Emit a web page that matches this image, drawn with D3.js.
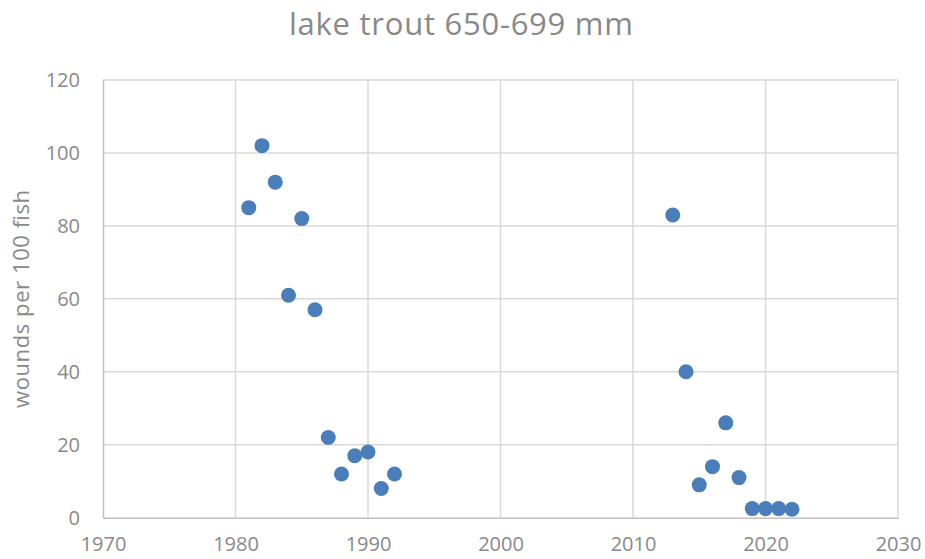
<!DOCTYPE html>
<html>
<head>
  <meta charset="utf-8">
  <title>lake trout 650-699 mm</title>
  <style>
    body,html{
      margin:0;
      padding:0;
      background:#fff;
      font-family: "Open Sans", "Noto Sans", sans-serif;
    }
    text{
      fill:#898989;
    }
  </style>
</head>
<body>
  <div id="container"></div>
  <script src="https://d3js.org/d3.v7.min.js"></script>
  <script>

    var years  = [1981, 1982, 1983, 1984, 1985, 1986, 1987, 1988, 1989, 1990, 1991, 1992,
                  2013, 2014, 2015, 2016, 2017, 2018, 2019, 2020, 2021, 2022];
    var wounds = [85, 102, 92, 61, 82, 57, 22, 12, 17, 18, 8, 12,
                  83, 40, 9, 14, 26, 11, 2.5, 2.5, 2.5, 2.3];
    var xTicks = [1970, 1980, 1990, 2000, 2010, 2020, 2030];
    var yTicks = [0, 20, 40, 60, 80, 100, 120];

    var width = 925, height = 559;
    var margin = {top:80, right:27, bottom:42, left:103};

    var svg = d3.select('#container').append('svg')
      .attr('width', width).attr('height', height);

    var x = d3.scaleLinear().domain([1970, 2030]).range([margin.left, width-margin.right]);
    var y = d3.scaleLinear().domain([0, 120]).range([height-margin.bottom+0.7, margin.top]);

    // gridlines
    svg.append('g').selectAll('line.h').data(yTicks.slice(1)).enter().append('line')
      .attr('x1', x(1970)).attr('x2', x(2030))
      .attr('y1', function(d){return y(d);}).attr('y2', function(d){return y(d);})
      .attr('stroke', '#d9d9d9').attr('stroke-width', 1.5);

    svg.append('g').selectAll('line.v').data(xTicks.slice(1)).enter().append('line')
      .attr('y1', y(0)).attr('y2', y(120))
      .attr('x1', function(d){return x(d);}).attr('x2', function(d){return x(d);})
      .attr('stroke', '#d9d9d9').attr('stroke-width', 1.5);

    // axes: labels plus darker base lines
    var xAxis = svg.append('g')
      .attr('transform', 'translate(0,' + y(0) + ')')
      .call(d3.axisBottom(x).tickValues(xTicks).tickFormat(d3.format('d')).tickSize(0).tickPadding(16));
    var yAxis = svg.append('g')
      .attr('transform', 'translate(' + x(1970) + ',0)')
      .call(d3.axisLeft(y).tickValues(yTicks).tickSize(0).tickPadding(23));
    [xAxis, yAxis].forEach(function(a){
      a.select('.domain').attr('stroke', '#bfbfbf').attr('stroke-width', 1.5);
      a.selectAll('text').attr('font-size', 20).attr('font-family', '"Open Sans", sans-serif').style('fill', '#898989');
    });
    xAxis.selectAll('text').attr('dy', '0.85em');

    // points
    svg.append('g').selectAll('circle').data(years).enter().append('circle')
      .attr('cx', function(d){return x(d);})
      .attr('cy', function(d,i){return y(wounds[i]);})
      .attr('r', 7.5)
      .attr('fill', '#4a7ebb');

    // title
    svg.append('text')
      .attr('x', 461).attr('y', 35)
      .attr('text-anchor', 'middle')
      .attr('font-size', 31)
      .attr('textLength', 344)
      .text('lake trout 650-699 mm');

    // y label
    svg.append('text')
      .attr('transform', 'translate(29,299) rotate(-90)')
      .attr('text-anchor', 'middle')
      .attr('font-size', 22)
      .attr('textLength', 218)
      .text('wounds per 100 fish');

  </script>
</body>
</html>
